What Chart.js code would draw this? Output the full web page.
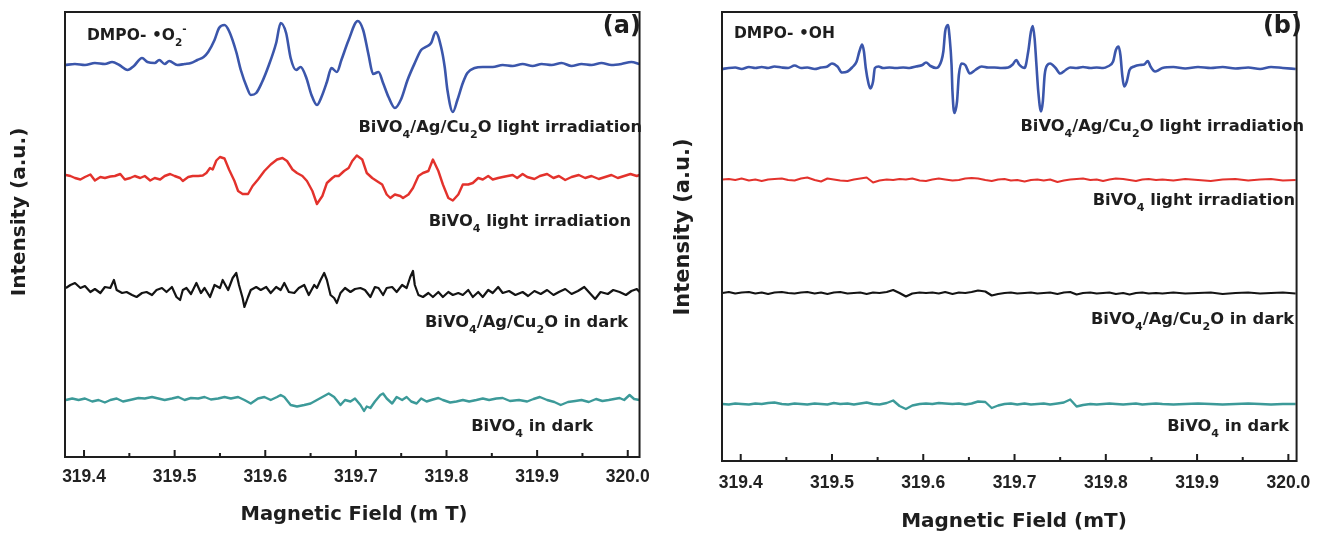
<!DOCTYPE html>
<html lang="en">
<head>
<meta charset="UTF-8">
<title>DMPO spin-trapping ESR spectra</title>
<script src="https://cdn.jsdelivr.net/npm/chart.js@4"></script>
<style>
  body { margin: 0; background: #fff; width: 1322px; height: 534px; overflow: hidden; }
  .panel { position: absolute; top: 0; }
  #panelA { left: 0; }
  #panelB { left: 660px; }
</style>
</head>
<body>
<div class="panel" id="panelA"><canvas id="chartA" width="660" height="534"></canvas></div>
<div class="panel" id="panelB"><canvas id="chartB" width="662" height="534"></canvas></div>
<script>
// tick values on the magnetic field axis (mT)
const xTicks = [319.4, 319.5, 319.6, 319.7, 319.8, 319.9, 320.0];
const minorTicks = [319.45, 319.55, 319.65, 319.75, 319.85, 319.95];

// vertical offsets of the stacked spectra (a.u.), top to bottom
const offsetsA = [393, 280, 169, 57];
const offsetsB = [393, 281, 168, 57];

// ---- panel (a): DMPO-•O2- ----  [field mT, intensity a.u.]
const a_composite_light = [
  [319.379,-1],[319.390,0],[319.401,-1],[319.412,1],[319.423,0],[319.431,2],[319.439,-1],[319.448,-6],
  [319.455,-2],[319.464,6],[319.470,2],[319.478,1],[319.483,4],[319.489,0],[319.494,3],[319.503,-1],
  [319.511,0],[319.518,1],[319.525,4],[319.532,7],[319.537,12],[319.544,24],[319.549,36],[319.555,39],
  [319.560,33],[319.568,12],[319.573,-6],[319.580,-24],[319.584,-31],[319.590,-29],[319.596,-19],[319.604,-1],
  [319.612,21],[319.617,41],[319.623,31],[319.628,6],[319.634,-6],[319.639,-3],[319.645,-13],[319.651,-31],
  [319.657,-41],[319.662,-33],[319.668,-18],[319.673,-4],[319.679,-8],[319.684,4],[319.692,24],[319.702,43],
  [319.708,34],[319.714,9],[319.719,-10],[319.725,-8],[319.730,-19],[319.736,-33],[319.743,-44],[319.750,-35],
  [319.757,-16],[319.765,1],[319.772,14],[319.777,17],[319.783,21],[319.788,32],[319.794,17],[319.798,-3],
  [319.801,-26],[319.807,-48],[319.812,-36],[319.818,-19],[319.823,-9],[319.831,-4],[319.840,-3],[319.851,-3],
  [319.862,-1],[319.873,-2],[319.884,0],[319.895,-2],[319.905,0],[319.916,-1],[319.927,1],[319.938,-2],
  [319.949,0],[319.960,-1],[319.971,1],[319.982,-1],[319.993,0],[320.004,2],[320.013,0]
];
const a_bivo4_light = [
  [319.380,2],[319.385,1],[319.390,-1],[319.396,-2.5],[319.401,0],[319.407,2.5],[319.412,-3.5],[319.418,0],
  [319.423,-1],[319.429,0.5],[319.434,1],[319.440,3],[319.445,-2.5],[319.451,-1],[319.456,1],[319.462,-1],
  [319.467,1],[319.473,-3.5],[319.478,-1],[319.484,-2.5],[319.489,1],[319.495,3],[319.500,1],[319.506,-1],
  [319.509,-4],[319.515,0],[319.520,1],[319.526,1],[319.531,1.5],[319.535,4],[319.539,9],[319.542,7.5],
  [319.546,16.5],[319.550,20],[319.555,18.5],[319.560,7.5],[319.566,-4],[319.570,-14],[319.575,-17],[319.581,-17],
  [319.586,-9],[319.592,-2.5],[319.599,6],[319.606,12.5],[319.613,17.5],[319.619,19],[319.624,16],[319.630,7.5],
  [319.635,4],[319.641,1],[319.646,-4],[319.652,-14],[319.657,-27],[319.663,-19],[319.668,-6],[319.674,-1],
  [319.677,1],[319.681,1],[319.687,6],[319.692,9],[319.696,16],[319.701,21.5],[319.707,17.5],[319.712,4],
  [319.718,-1],[319.723,-4],[319.729,-7.5],[319.734,-17.5],[319.738,-21],[319.743,-17.5],[319.749,-19],[319.752,-21],
  [319.758,-17.5],[319.763,-11],[319.769,1],[319.774,4],[319.780,6],[319.785,17.5],[319.791,6],[319.796,-7.5],
  [319.802,-21],[319.807,-23.5],[319.813,-17.5],[319.818,-7.5],[319.824,-7.5],[319.829,-6],[319.835,-1],[319.840,-2.5],
  [319.846,1],[319.851,-2.5],[319.857,-1],[319.862,0],[319.873,2],[319.878,-1],[319.884,3],[319.889,0],
  [319.897,-2],[319.903,1],[319.911,3],[319.918,-1],[319.924,1],[319.931,-3],[319.938,0],[319.946,2],
  [319.953,-1],[319.960,1],[319.968,-2],[319.975,0],[319.982,2],[319.989,-1],[319.996,1],[320.003,3],
  [320.010,1],[320.013,2]
];
const a_composite_dark = [
  [319.380,0],[319.385,3],[319.390,5],[319.396,0],[319.401,2],[319.407,-4],[319.412,-1],[319.418,-5],
  [319.423,1],[319.429,0],[319.433,8],[319.436,-2],[319.442,-5],[319.447,-4],[319.453,-7],[319.458,-9],
  [319.464,-5],[319.469,-4],[319.475,-7],[319.480,-2],[319.486,0],[319.491,-4],[319.497,1],[319.502,-9],
  [319.506,-12],[319.509,-2],[319.513,0],[319.518,-6],[319.524,5],[319.529,-5],[319.533,0],[319.539,-9],
  [319.544,3],[319.550,0],[319.553,8],[319.559,-2],[319.564,10],[319.568,15],[319.571,3],[319.575,-10],
  [319.577,-19],[319.581,-9],[319.584,-2],[319.590,1],[319.595,-2],[319.601,1],[319.606,-5],[319.612,1],
  [319.617,-2],[319.621,5],[319.626,-4],[319.632,-5],[319.637,0],[319.643,3],[319.648,-7],[319.654,3],
  [319.657,0],[319.661,8],[319.665,15],[319.668,8],[319.672,-7],[319.676,-10],[319.679,-15],[319.683,-5],
  [319.688,0],[319.694,-4],[319.699,-1],[319.705,0],[319.710,-2],[319.716,-9],[319.721,1],[319.725,0],
  [319.730,-7],[319.734,0],[319.740,1],[319.745,-4],[319.751,3],[319.756,0],[319.760,11],[319.763,17],
  [319.765,3],[319.769,-7],[319.774,-9],[319.780,-5],[319.785,-9],[319.791,-4],[319.796,-9],[319.802,-4],
  [319.807,-7],[319.813,-5],[319.818,-7],[319.824,-2],[319.829,-9],[319.835,-4],[319.840,-9],[319.846,-2],
  [319.851,-5],[319.857,1],[319.862,-5],[319.869,-3],[319.876,-7],[319.884,-4],[319.890,-8],[319.897,-3],
  [319.904,-6],[319.911,-2],[319.918,-7],[319.924,-4],[319.931,-1],[319.938,-6],[319.945,-3],[319.952,1],
  [319.958,-5],[319.964,-11],[319.970,-4],[319.978,-6],[319.984,-2],[319.991,-4],[319.998,-7],[320.004,-3],
  [320.010,-1],[320.013,-4]
];
const a_bivo4_dark = [
  [319.380,0],[319.387,1.5],[319.394,0],[319.401,1.5],[319.409,-1.5],[319.416,0],[319.423,-2.5],[319.429,0],
  [319.436,1.5],[319.443,-1.5],[319.453,0.5],[319.460,2],[319.467,1.5],[319.475,3],[319.482,1.5],[319.489,0],
  [319.497,1.5],[319.504,3],[319.511,0],[319.518,2],[319.526,1.5],[319.533,3],[319.540,0.5],[319.548,1.5],
  [319.555,3],[319.562,1.5],[319.570,3],[319.577,0],[319.584,-3.5],[319.592,1.5],[319.599,3],[319.606,0],
  [319.613,3],[319.617,5],[319.621,3],[319.628,-5],[319.635,-6.5],[319.643,-5],[319.650,-3.5],[319.657,0],
  [319.665,4],[319.670,6.5],[319.676,3],[319.683,-5],[319.688,0],[319.694,-1.5],[319.699,1.5],[319.705,-5],
  [319.709,-11],[319.712,-6.5],[319.716,-8],[319.721,-1.5],[319.727,5],[319.730,6.5],[319.734,1.5],[319.740,-3.5],
  [319.745,3],[319.751,0],[319.756,3],[319.761,-1.5],[319.767,-3.5],[319.772,1.5],[319.778,-1.5],[319.785,0.5],
  [319.791,2],[319.796,0],[319.804,-2.5],[319.811,-1.5],[319.818,0],[319.825,-1.5],[319.833,0],[319.840,1.5],
  [319.847,0],[319.855,1.5],[319.862,2],[319.870,-1],[319.880,0],[319.889,-1.5],[319.896,1],[319.903,3],
  [319.911,0],[319.919,-2],[319.926,-5],[319.934,-2],[319.942,-1],[319.949,0],[319.957,-2],[319.965,1],
  [319.972,-1],[319.979,0],[319.985,1],[319.991,2],[319.996,0],[320.002,5],[320.007,1],[320.013,0]
];

// ---- panel (b): DMPO-•OH ----
const b_composite_light = [
  [319.380,-1],[319.387,0],[319.394,0.5],[319.401,-1],[319.409,1],[319.416,0],[319.423,1],[319.430,0],
  [319.437,1.5],[319.445,0.5],[319.452,0],[319.459,2.5],[319.466,0],[319.473,0.5],[319.481,-1],[319.488,0.5],
  [319.495,1.5],[319.500,4.5],[319.506,1.5],[319.511,-4.5],[319.517,-3.5],[319.522,0.5],[319.527,6.5],[319.530,16.5],
  [319.533,23.5],[319.535,16.5],[319.537,0],[319.540,-15.5],[319.542,-20.5],[319.545,-13.5],[319.547,0],[319.551,1.5],
  [319.556,0],[319.563,0.5],[319.570,0],[319.578,0.5],[319.585,0],[319.592,1.5],[319.599,3],[319.603,5.5],
  [319.608,2],[319.614,0],[319.617,1.5],[319.622,16.5],[319.624,36.5],[319.627,43],[319.629,29.5],[319.631,3],
  [319.632,-23.5],[319.634,-45],[319.637,-33.5],[319.639,-7],[319.642,4.5],[319.646,3],[319.651,-5.5],[319.657,-2],
  [319.664,1.5],[319.671,0.5],[319.678,0.5],[319.686,0],[319.693,0.5],[319.698,3.5],[319.702,8],[319.705,3.5],
  [319.711,0],[319.715,16.5],[319.718,36.5],[319.720,42],[319.722,29.5],[319.724,3],[319.726,-23.5],[319.729,-43.5],
  [319.731,-33.5],[319.733,-7],[319.736,3],[319.739,4.5],[319.745,0],[319.750,-5.5],[319.756,-2],[319.761,0.5],
  [319.768,0],[319.775,1],[319.783,0],[319.790,0.5],[319.797,0],[319.802,1.5],[319.808,6.5],[319.811,18],
  [319.814,21.5],[319.816,13],[319.818,-7],[319.820,-18.5],[319.823,-13.5],[319.826,-2],[319.831,1.5],[319.837,3],
  [319.842,3.5],[319.846,7],[319.849,1.5],[319.854,-3.5],[319.858,-2],[319.862,0],[319.874,1],[319.887,-0.5],
  [319.901,1],[319.915,0],[319.928,1],[319.942,-0.5],[319.956,0.5],[319.969,-1],[319.981,1],[319.994,0],
  [320.008,-1]
];

// the three flat traces of panel (b) share one field grid
const fieldB = [
  319.380, 319.387, 319.394, 319.401, 319.409, 319.416, 319.423, 319.430, 319.437, 319.445,
  319.452, 319.459, 319.466, 319.473, 319.481, 319.488, 319.495, 319.502, 319.509, 319.517,
  319.524, 319.531, 319.538, 319.545, 319.552, 319.560, 319.567, 319.574, 319.581, 319.588,
  319.596, 319.603, 319.610, 319.617, 319.624, 319.632, 319.639, 319.646, 319.653, 319.660,
  319.668, 319.675, 319.682, 319.689, 319.696, 319.703, 319.711, 319.718, 319.725, 319.732,
  319.739, 319.747, 319.754, 319.761, 319.768, 319.775, 319.783, 319.790, 319.797, 319.804,
  319.811, 319.819, 319.826, 319.833, 319.840, 319.847, 319.855, 319.862, 319.874, 319.887,
  319.901, 319.915, 319.928, 319.942, 319.956, 319.969, 319.981, 319.994, 320.008
];
const b_bivo4_light = [
  0.5, 1, 0, 1.5, -0.5, 0.5, -1, 0.5, 1, 1.5,
  0, -0.5, 1.5, 2.5, 0, -1.5, 1.5, 0.5, -0.5, -1,
  0.5, 1.5, 2.5, -2.5, -0.5, 0.5, 0, 1, 0.5, 1.5,
  -0.5, -1, 0.5, 1.5, 0.5, -0.5, 0, 1.5, 2, 1.5,
  0, -1, 0.5, 1, -0.5, 0, -1.5, 0, 0.5, -0.5,
  0.5, -2, -0.5, 0.5, 1, 1.5, 0, 0.5, -1, 0.5,
  1.5, 1, 0, -1, 0.5, 1, 0, 0.5, -0.5, 1,
  0, -1, 0.5, 1, -0.5, 0.5, 1, -0.5, 0
];
const b_composite_dark = [
  0, 1, -0.5, 0.5, 1, -0.5, 0.5, -1, 0.5, 1,
  0, -0.5, 0.5, 1, -0.5, 0.5, -1, 0.5, 1, -0.5,
  0, 0.5, -1, 0.5, 0, 1, 3, 0, -3.5, -0.5,
  0.5, 0, 0.5, -0.5, 1, -1, 0.5, 0, 1, 2.5,
  1.5, -2.5, -1, 0, 0.5, -0.5, 0, 0.5, -0.5, 0,
  0.5, -1, 0.5, 1, -1.5, 0, 0.5, -0.5, 0, 0.5,
  -1, 0, -1.5, 0, 0.5, -0.5, 0, -0.5, 0.5, -0.5,
  0, 0.5, -1, 0, 0.5, -0.5, 0, 0.5, -0.5
];
const b_bivo4_dark = [
  0, -0.5, 0.5, 0, -0.5, 0.5, 0, 1, 1.5, 0,
  -0.5, 0.5, 0, -0.5, 0.5, 0, -0.5, 1, 0, 0.5,
  -0.5, 0.5, 1.5, 0, -0.5, 1, 3.5, -2, -5, -1.5,
  0, 0.5, 0, 1, 0.5, 0, 0.5, -0.5, 0.5, 2.5,
  2, -4, -1.5, 0, 0.5, -0.5, 0.5, -0.5, 0, 0.5,
  -0.5, 0.5, 1.5, 4.5, -2.5, -1, 0, -0.5, 0, 0.5,
  0, -0.5, 0, 0.5, -0.5, 0, 0.5, 0, -0.5, 0,
  0.5, 0, -0.5, 0, 0.5, 0, -0.5, 0, 0
];

const colors = { blue: '#3b56ab', red: '#e3322c', black: '#141414', teal: '#3c9a99' };
const tickFont = '"Liberation Sans", Arial, sans-serif';
const textFont = '"DejaVu Sans", Verdana, sans-serif';

const shiftPairs = (pairs, off) => pairs.map(([x, y]) => ({ x, y: y + off }));
const shiftGrid = (field, vals, off) => field.map((x, i) => ({ x, y: vals[i] + off }));

// smooth = monotone curve through the points, otherwise straight segments (noisier look)
function trace(data, color, width, smooth) {
  return { data, borderColor: color, borderWidth: width, pointRadius: 0, fill: false,
           cubicInterpolationMode: smooth ? 'monotone' : 'default', tension: 0,
           borderJoinStyle: 'round' };
}

// draws a label made of runs: [text] or [text, 'sub'|'sup']
function drawRuns(ctx, lab) {
  const fontOf = r => `bold ${r[1] ? lab.size * 0.68 : lab.size}px ${textFont}`;
  let total = 0;
  lab.runs.forEach(r => { ctx.font = fontOf(r); total += ctx.measureText(r[0]).width; });
  let x = lab.align === 'right' ? lab.x - total : lab.x;
  ctx.textAlign = 'left';
  ctx.textBaseline = 'alphabetic';
  lab.runs.forEach(r => {
    ctx.font = fontOf(r);
    const dy = r[1] === 'sub' ? lab.size * 0.36 : r[1] === 'sup' ? -lab.size * 0.5 : 0;
    ctx.fillText(r[0], x, lab.y + dy);
    x += ctx.measureText(r[0]).width;
  });
}

// frame, inward ticks, axis titles and trace labels
const framePlugin = {
  id: 'frame',
  afterDraw(chart, args, opts) {
    const { ctx, chartArea: a } = chart;
    const xs = chart.scales.x;
    ctx.save();
    ctx.strokeStyle = '#1e1e1e';
    ctx.lineWidth = 2;
    ctx.strokeRect(a.left, a.top, a.right - a.left, a.bottom - a.top);
    ctx.beginPath();
    xTicks.forEach(v => { const p = xs.getPixelForValue(v); ctx.moveTo(p, a.bottom); ctx.lineTo(p, a.bottom - 7); });
    minorTicks.forEach(v => { const p = xs.getPixelForValue(v); ctx.moveTo(p, a.bottom); ctx.lineTo(p, a.bottom - 4); });
    ctx.stroke();

    ctx.fillStyle = '#1e1e1e';
    ctx.textAlign = 'center';
    ctx.textBaseline = 'middle';
    ctx.font = `bold ${opts.xTitle.size}px ${textFont}`;
    ctx.fillText(opts.xTitle.text, opts.xTitle.x, opts.xTitle.y);

    ctx.save();
    ctx.translate(opts.yTitle.x, opts.yTitle.y);
    ctx.rotate(-Math.PI / 2);
    ctx.font = `bold ${opts.yTitle.size}px ${textFont}`;
    ctx.fillText(opts.yTitle.text, 0, 0);
    ctx.restore();

    opts.labels.forEach(l => drawRuns(ctx, l));
    ctx.restore();
  }
};

function xScale(min, max, pad, height) {
  return {
    type: 'linear', min, max,
    afterBuildTicks: s => { s.ticks = xTicks.map(v => ({ value: v })); },
    afterFit: s => { s.height = height; },
    grid: { display: false, drawTicks: false },
    border: { display: false },
    ticks: { padding: pad, color: '#222', maxRotation: 0, autoSkip: false,
             font: { family: tickFont, size: 17.5, weight: 'bold' },
             callback: v => v.toFixed(1) }
  };
}

const composite = (tail) => [['BiVO'], ['4', 'sub'], ['/Ag/Cu'], ['2', 'sub'], ['O' + tail]];
const bare = (tail) => [['BiVO'], ['4', 'sub'], [tail]];

new Chart(document.getElementById('chartA'), {
  type: 'line',
  data: {
    datasets: [
      trace(shiftPairs(a_composite_light, offsetsA[0]), colors.blue, 2.6, true),
      trace(shiftPairs(a_bivo4_light, offsetsA[1]), colors.red, 2.4, false),
      trace(shiftPairs(a_composite_dark, offsetsA[2]), colors.black, 2.2, false),
      trace(shiftPairs(a_bivo4_dark, offsetsA[3]), colors.teal, 2.4, false)
    ]
  },
  options: {
    responsive: false,
    animation: false,
    layout: { padding: { left: 65, right: 17, top: 12, bottom: 0 } },
    scales: {
      x: xScale(319.379, 320.013, 10, 77),
      y: { display: false, min: 0, max: 445 }
    },
    plugins: {
      legend: { display: false },
      tooltip: { enabled: false },
      frame: {
        xTitle: { text: 'Magnetic Field (m T)', x: 354, y: 515, size: 19.5 },
        yTitle: { text: 'Intensity (a.u.)', x: 20, y: 212, size: 20 },
        labels: [
          { x: 87, y: 40, size: 15.5, runs: [['DMPO- \u2022O'], ['2', 'sub'], ['-', 'sup']] },
          { x: 641, y: 33, size: 24, align: 'right', runs: [['(a)']] },
          { x: 642, y: 132, size: 16.3, align: 'right', runs: composite(' light irradiation') },
          { x: 631, y: 226, size: 16.3, align: 'right', runs: bare(' light irradiation') },
          { x: 628, y: 327, size: 16.3, align: 'right', runs: composite(' in dark') },
          { x: 593, y: 431, size: 16.3, align: 'right', runs: bare(' in dark') }
        ]
      }
    }
  },
  plugins: [framePlugin]
});

new Chart(document.getElementById('chartB'), {
  type: 'line',
  data: {
    datasets: [
      trace(shiftPairs(b_composite_light, offsetsB[0]), colors.blue, 2.6, true),
      trace(shiftGrid(fieldB, b_bivo4_light, offsetsB[1]), colors.red, 2, false),
      trace(shiftGrid(fieldB, b_composite_dark, offsetsB[2]), colors.black, 2.2, false),
      trace(shiftGrid(fieldB, b_bivo4_dark, offsetsB[3]), colors.teal, 2.4, false)
    ]
  },
  options: {
    responsive: false,
    animation: false,
    layout: { padding: { left: 62, right: 17, top: 12, bottom: 0 } },
    scales: {
      x: xScale(319.3795, 320.009, 11.5, 73),
      y: { display: false, min: 0, max: 449 }
    },
    plugins: {
      legend: { display: false },
      tooltip: { enabled: false },
      frame: {
        xTitle: { text: 'Magnetic Field (mT)', x: 354, y: 522, size: 20 },
        yTitle: { text: 'Intensity (a.u.)', x: 24, y: 227, size: 21 },
        labels: [
          { x: 74, y: 38, size: 15.5, runs: [['DMPO- \u2022OH']] },
          { x: 642, y: 33, size: 24, align: 'right', runs: [['(b)']] },
          { x: 644, y: 131, size: 16.3, align: 'right', runs: composite(' light irradiation') },
          { x: 635, y: 205, size: 16.3, align: 'right', runs: bare(' light irradiation') },
          { x: 634, y: 324, size: 16.3, align: 'right', runs: composite(' in dark') },
          { x: 629, y: 431, size: 16.3, align: 'right', runs: bare(' in dark') }
        ]
      }
    }
  },
  plugins: [framePlugin]
});
</script>
</body>
</html>
